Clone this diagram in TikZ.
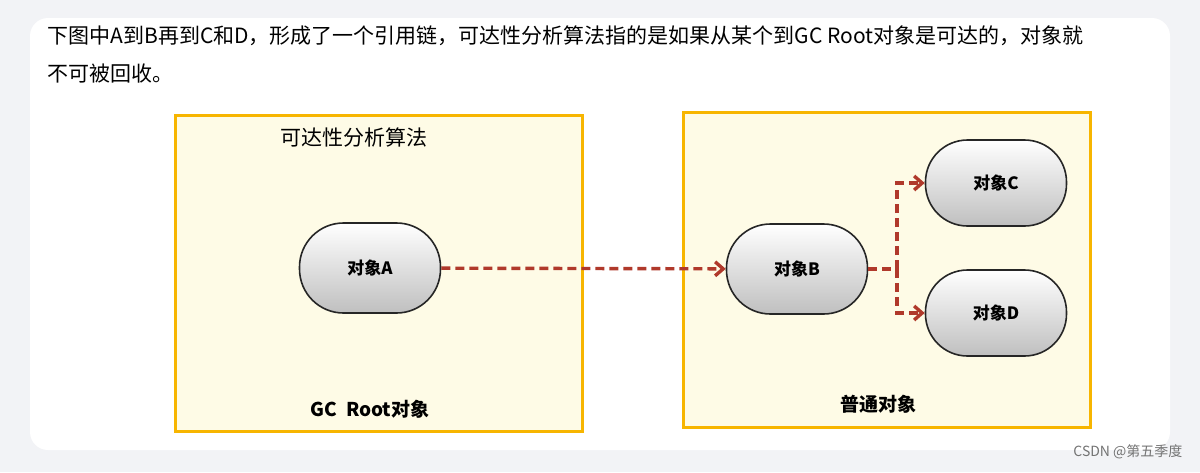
\documentclass[tikz,border=0pt]{standalone}
\usepackage{fontspec}
\setmainfont{Noto Sans CJK SC}
\usetikzlibrary{arrows.meta}
\definecolor{bg}{HTML}{F2F3F6}
\definecolor{cream}{HTML}{FEFBE6}
\definecolor{frame}{HTML}{F7B500}
\definecolor{arr}{HTML}{B0392B}
\tikzset{
  box/.style={draw=frame,line width=3pt,fill=cream},
  obj/.style={draw=black!85,line width=1.6pt,rounded corners=44pt,minimum width=141pt,minimum height=90pt,top color=white,bottom color=black!25,font=\bfseries\fontsize{17}{20}\selectfont},
  link/.style={draw=arr,line width=3.4pt,dash pattern=on 9pt off 5pt,-{Straight Barb[length=8pt,width=14pt]}},
  txt/.style={font=\fontsize{21}{25}\selectfont,anchor=west}
}
\begin{document}
\begin{tikzpicture}[x=1pt,y=-1pt]
\useasboundingbox (0,0) rectangle (1200,472);
\fill[bg] (0,0) rectangle (1200,472);
\fill[white,rounded corners=18pt] (30,18) rectangle (1170,450);
\node[txt] (t1) at (44,36) {下图中A到B再到C和D，形成了一个引用链，可达性分析算法指的是如果从某个到GC Root对象是可达的，对象就};
\node[txt] (t2) at (44,74) {不可被回收。};
\draw[box] (175,115) rectangle (582,431);
\draw[box] (683,112) rectangle (1090,427);
\node[font=\fontsize{21}{25}\selectfont] (lab) at (354,137) {可达性分析算法};
\node[font=\bfseries\fontsize{19}{22}\selectfont] (gc) at (370,409) {GC\ \ Root对象};
\node[font=\bfseries\fontsize{19}{22}\selectfont] (pt) at (878,404) {普通对象};
\node[obj] (A) at (370,268) {对象A};
\node[obj] (B) at (797,269) {对象B};
\node[obj,minimum height=86pt,rounded corners=42pt] (C) at (996,183) {对象C};
\node[obj,minimum height=86pt,rounded corners=42pt] (D) at (996,313) {对象D};
\coordinate (j) at (897,269);
\draw[link] (A) -- (B);
\draw[link,-] (B) -- (j);
\draw[link] (j) |- (C);
\draw[link] (j) |- (D);
\node[font=\fontsize{14}{16}\selectfont,text=black!55,anchor=east] (wm) at (1186,452) {CSDN @第五季度};
\end{tikzpicture}
\end{document}
